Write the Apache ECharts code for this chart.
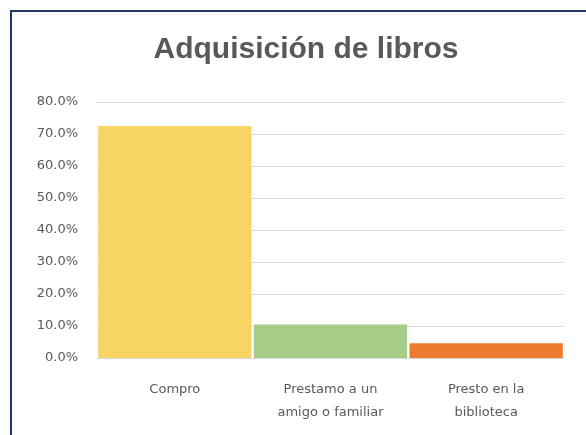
<!DOCTYPE html>
<html>
<head>
    <meta charset="utf-8">
    <script src="https://cdn.jsdelivr.net/npm/echarts@6/dist/echarts.min.js"></script>
    <title>Adquisición de libros</title>
    <style>
        html, body { margin: 0; padding: 0; background: #fff; }
        #main { width: 586px; height: 435px; }
    </style>
</head>
<body>
<div id="main"></div>
<script>
    // datos
    var categorias = ['Compro', 'Prestamo a un\namigo o familiar', 'Presto en la\nbiblioteca'];
    var porcentajes = [72.5, 10.5, 4.6];
    var colores = ['#F7D463', '#A5CD87', '#EB7B2F'];
    var ticks = [0, 10, 20, 30, 40, 50, 60, 70, 80];

    var chart = echarts.init(document.getElementById('main'));
    var option = {
        backgroundColor: '#fff',
        title: {
            text: 'Adquisición de libros',
            left: 301,
            top: 30,
            textAlign: 'center',
            textStyle: {
                fontFamily: 'Liberation Sans',
                fontSize: 30,
                fontWeight: 'bold',
                color: '#595959'
            }
        },
        graphic: [{
            type: 'rect',
            shape: { x: 11, y: 11, width: 590, height: 440 },
            style: { fill: 'none', stroke: '#1F3864', lineWidth: 2 },
            silent: true
        }],
        grid: { left: 97, right: 22, top: 102, bottom: 77 },
        xAxis: {
            type: 'category',
            data: categorias,
            axisTick: { show: false },
            axisLine: { lineStyle: { color: '#D9D9D9' } },
            axisLabel: {
                margin: 20,
                fontFamily: 'DejaVu Sans',
                fontSize: 13,
                lineHeight: 23,
                color: '#595959'
            }
        },
        yAxis: {
            type: 'value',
            min: ticks[0],
            max: ticks[ticks.length - 1],
            interval: 10,
            axisLine: { show: false },
            axisTick: { show: false },
            splitLine: { lineStyle: { color: '#D9D9D9' } },
            axisLabel: {
                margin: 19,
                fontFamily: 'DejaVu Sans',
                fontSize: 13,
                color: '#595959',
                formatter: function (v) { return v.toFixed(1) + '%'; }
            }
        },
        series: [{
            type: 'bar',
            barCategoryGap: '1.5%',
            data: porcentajes.map(function (v, i) {
                return { value: v, itemStyle: { color: colores[i] } };
            })
        }]
    };
    chart.setOption(option);
</script>
</body>
</html>
